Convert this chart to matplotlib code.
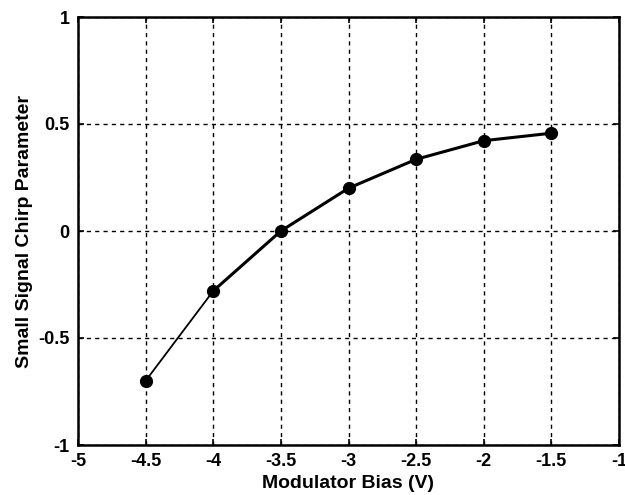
import matplotlib
matplotlib.use("Agg")
import matplotlib.pyplot as plt

bias = [-4.5, -4.0, -3.5, -3.0, -2.5, -2.0, -1.5]
chirp = [-0.70, -0.28, 0.0, 0.20, 0.335, 0.422, 0.457]
xticks = [-5, -4.5, -4, -3.5, -3, -2.5, -2, -1.5, -1]
xticklabels = ["-5", "-4.5", "-4", "-3.5", "-3", "-2.5", "-2", "-1.5", "-1"]
yticks = [-1, -0.5, 0, 0.5, 1]
yticklabels = ["-1", "-0.5", "0", "0.5", "1"]

plt.rcParams['font.family'] = ['Liberation Sans', 'DejaVu Sans']
plt.rcParams['font.weight'] = 'bold'

fig = plt.figure(figsize=(6.25, 4.95), dpi=100)
ax = fig.add_axes([78/625, 1-445/495, (619-78)/625, (445-17)/495])

ax.plot(bias[:2], chirp[:2], color='black', lw=1.3, zorder=3)
ax.plot(bias[1:], chirp[1:], color='black', lw=2.2, zorder=3)
ax.plot(bias, chirp, 'o', color='black', ms=8.5, zorder=4)

ax.set_xlim(-5, -1)
ax.set_ylim(-1, 1)
ax.set_xticks(xticks)
ax.set_xticklabels(xticklabels, fontsize=13, fontweight='bold')
ax.set_yticks(yticks)
ax.set_yticklabels(yticklabels, fontsize=13, fontweight='bold')
ax.tick_params(direction='in', top=True, right=True, length=4, width=1.2, pad=6)
ax.grid(True, color='black', linestyle=(0, (3, 3)), linewidth=1.0)
for s in ax.spines.values():
    s.set_linewidth(1.8)

ax.set_xlabel("Modulator Bias (V)", fontsize=14, fontweight='bold', labelpad=3)
ax.set_ylabel("Small Signal Chirp Parameter", fontsize=14, fontweight='bold', labelpad=4)

fig.savefig("out.png", dpi=100)
